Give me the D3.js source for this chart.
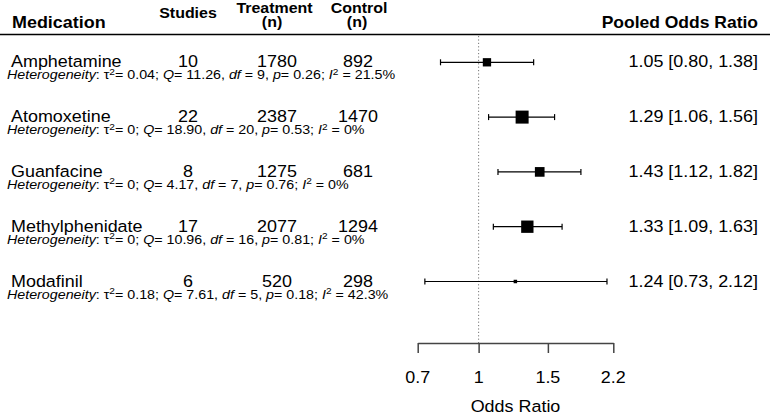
<!DOCTYPE html>
<html>
<head>
<meta charset="utf-8">
<script src="https://cdn.jsdelivr.net/npm/d3@7"></script>
<style>
  html, body { margin: 0; padding: 0; background: #fff; }
  svg text { font-family: "Liberation Sans", Arial, Helvetica, sans-serif; fill: #000; }
</style>
</head>
<body>
<svg id="chart" width="770" height="415"></svg>
<script>
// ---- data ----
const medications = ["Amphetamine", "Atomoxetine", "Guanfacine", "Methylphenidate", "Modafinil"];
const studies     = [10, 22, 8, 17, 6];
const treatmentN  = [1780, 2387, 1275, 2077, 520];
const controlN    = [892, 1470, 681, 1294, 298];
const oddsRatio   = [1.05, 1.29, 1.43, 1.33, 1.24];
const ciLower     = [0.80, 1.06, 1.12, 1.09, 0.73];
const ciUpper     = [1.38, 1.56, 1.82, 1.63, 2.12];
const tau2        = ["0.04", "0", "0", "0", "0.18"];
const qStat       = ["11.26", "18.90", "4.17", "10.96", "7.61"];
const dfVals      = [9, 20, 7, 16, 5];
const pVals       = ["0.26", "0.53", "0.76", "0.81", "0.18"];
const i2Vals      = ["21.5", "0", "0", "0", "42.3"];
const axisTicks   = [0.7, 1, 1.5, 2.2];
const axisTickLabels = ["0.7", "1", "1.5", "2.2"];

const svg = d3.select("#chart");
const SX = 1.1;   // horizontal stretch of the main lettering
const SXH = 1.19; // horizontal stretch of the heterogeneity lines

function txt(parent, x, y, size, anchor, str, bold, sx) {
  const g = parent.append("g").attr("transform", `translate(${x},${y}) scale(${sx || SX},1)`);
  const t = g.append("text").attr("x", 0).attr("y", 0).attr("font-size", size)
    .attr("text-anchor", anchor || "start");
  if (bold) t.attr("font-weight", "bold");
  if (str !== undefined) t.text(str);
  return t;
}

// ---- scales ----
const x = d3.scaleLog().domain([0.7, 2.2]).range([417.7, 613.3]);
const y = d3.scaleLinear().domain([0, medications.length - 1]).range([62.3, 281.5]);

const weights = ciLower.map((lo, i) => {
  const se = (Math.log(ciUpper[i]) - Math.log(lo)) / (2 * 1.96);
  return 1 / (se * se);
});
const boxSize = d3.scalePow().exponent(0.65).domain([0, d3.max(weights)]).range([0, 13]);

// ---- header ----
txt(svg, 12, 27.5, 16.3, "start", "Medication", true);
txt(svg, 188, 18, 14.5, "middle", "Studies", true);
txt(svg, 274.5, 12.5, 14.5, "middle", "Treatment", true);
txt(svg, 272, 27, 14.5, "middle", "(n)", true);
txt(svg, 359, 12.5, 14.5, "middle", "Control", true);
txt(svg, 357, 27, 14.5, "middle", "(n)", true);
txt(svg, 758, 27.5, 15.9, "end", "Pooled Odds Ratio", true);

svg.append("line").attr("x1", 0).attr("x2", 770).attr("y1", 34.5).attr("y2", 34.5)
  .attr("stroke", "#000").attr("stroke-width", 1.6);

// ---- reference line ----
svg.append("line").attr("x1", x(1)).attr("x2", x(1)).attr("y1", 36).attr("y2", 343)
  .attr("stroke", "#777").attr("stroke-width", 1).attr("stroke-dasharray", "1.2,2.2");

// ---- rows ----
medications.forEach((name, i) => {
  const g = svg.append("g");
  const yy = y(i);
  txt(g, 11, yy + 5, 16.3, "start", name);
  txt(g, 188, yy + 5, 16.3, "middle", studies[i]);
  txt(g, 277, yy + 5, 16.3, "middle", treatmentN[i]);
  txt(g, 358, yy + 5, 16.3, "middle", controlN[i]);

  const t = txt(g, 7, yy + 17, 12, "start", undefined, false, SXH);
  const parts = [
    ["Heterogeneity", "italic"], [": τ"], ["2", "sup"], ["= " + tau2[i] + "; "],
    ["Q", "italic"], ["= " + qStat[i] + ", "],
    ["df", "italic"], [" = " + dfVals[i] + ", "],
    ["p", "italic"], ["= " + pVals[i] + "; "],
    ["I", "italic"], ["2", "sup"], [" = " + i2Vals[i] + "%"]
  ];
  let shifted = false;
  parts.forEach(([s, kind]) => {
    const sp = t.append("tspan").text(s);
    if (kind === "italic") sp.attr("font-style", "italic");
    if (kind === "sup") { sp.attr("font-size", 8.5).attr("dy", -4.6); shifted = true; }
    else if (shifted) { sp.attr("dy", 4.6); shifted = false; }
  });

  // CI line with end caps
  g.append("line").attr("x1", x(ciLower[i])).attr("x2", x(ciUpper[i]))
    .attr("y1", yy).attr("y2", yy).attr("stroke", "#000").attr("stroke-width", 1.2);
  [ciLower[i], ciUpper[i]].forEach(v => {
    g.append("line").attr("x1", x(v)).attr("x2", x(v)).attr("y1", yy - 3).attr("y2", yy + 3)
      .attr("stroke", "#000").attr("stroke-width", 1.2);
  });
  const s = boxSize(weights[i]);
  g.append("rect").attr("x", x(oddsRatio[i]) - s / 2).attr("y", yy - s / 2)
    .attr("width", s).attr("height", s).attr("fill", "#000");

  txt(g, 758, yy + 5, 16.3, "end",
    oddsRatio[i].toFixed(2) + " [" + ciLower[i].toFixed(2) + ", " + ciUpper[i].toFixed(2) + "]");
});

// ---- axis ----
const axis = d3.axisBottom(x).tickValues(axisTicks).tickFormat("")
  .tickSize(10).tickSizeOuter(0);
const ag = svg.append("g").attr("transform", "translate(0,343)").call(axis);
ag.select(".domain").attr("stroke", "#444").attr("stroke-width", 1.5);
ag.selectAll(".tick line").attr("stroke", "#444").attr("stroke-width", 1.5);
axisTicks.forEach((v, i) => txt(svg, x(v), 382.5, 16.3, "middle", axisTickLabels[i]));

txt(svg, (x.range()[0] + x.range()[1]) / 2, 411.5, 16.3, "middle", "Odds Ratio");
</script>
</body>
</html>
